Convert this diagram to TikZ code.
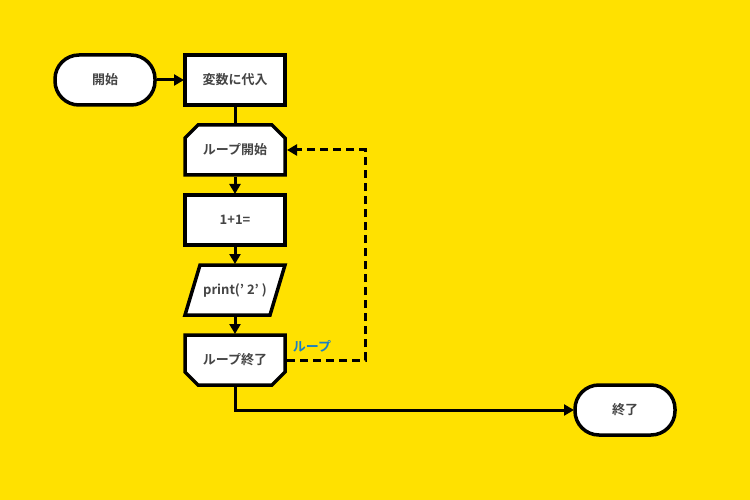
\documentclass[tikz,border=0pt]{standalone}
\usepackage{fontspec}
\newfontfamily\cjk{Noto Sans CJK JP}[BoldFont=* Bold]
\usetikzlibrary{arrows.meta}
\definecolor{bg}{HTML}{FFE100}
\definecolor{tx}{HTML}{444444}
\definecolor{lb}{HTML}{1A7FC4}
\begin{document}
\begin{tikzpicture}[x=1pt,y=-1pt,
  sh/.style={draw=black,line width=3.5pt,fill=white,line join=miter},
  tt/.style={font=\cjk\bfseries\fontsize{13}{15}\selectfont,text=tx},
  ar/.style={line width=3pt,-{Triangle[length=10pt,width=11pt]}},
  ln/.style={line width=3pt}]
\fill[bg] (0,0) rectangle (750,500);
\useasboundingbox (0,0) rectangle (750,500);
\draw[sh,rounded corners=24pt] (55,55) rectangle (155,105);
\node[tt] (s) at (105,80) {開始};
\draw[sh] (185,55) rectangle (285,105);
\node[tt] (v) at (235,80) {変数に代入};
\draw[sh] (198,125) -- (272,125) -- (285,138) -- (285,175) -- (185,175) -- (185,138) -- cycle;
\node[tt] (ls) at (235,150) {ループ開始};
\draw[sh] (185,195) rectangle (285,245);
\node[tt] (c) at (235,220) {1+1=};
\draw[sh] (200,265) -- (285,265) -- (270,315) -- (185,315) -- cycle;
\node[tt] (p) at (235,290) {print(’ 2’ )};
\draw[sh] (185,335) -- (285,335) -- (285,372) -- (272,385) -- (198,385) -- (185,372) -- cycle;
\node[tt] (le) at (235,360) {ループ終了};
\draw[sh,rounded corners=24pt] (575,385) rectangle (675,435);
\node[tt] (e) at (625,410) {終了};
\coordinate (sR) at (157,80);
\coordinate (vL) at (184,80);
\draw[ar] (sR) -- (vL);
\draw[ln] (235,107) -- (235,123);
\draw[ar] (235,177) -- (235,194);
\draw[ar] (235,247) -- (235,264);
\draw[ar] (235,317) -- (235,334);
\draw[ar] (235,387) -- (235,410) -- (574,410);
\draw[ln,dashed,dash pattern=on 8pt off 5pt,-{Triangle[length=10pt,width=11pt]}] (287,360) -- (365,360) -- (365,150) -- (287,150);
\node[font=\cjk\bfseries\fontsize{13}{15}\selectfont,text=lb] (lbl) at (312,346) {ループ};
\end{tikzpicture}
\end{document}
